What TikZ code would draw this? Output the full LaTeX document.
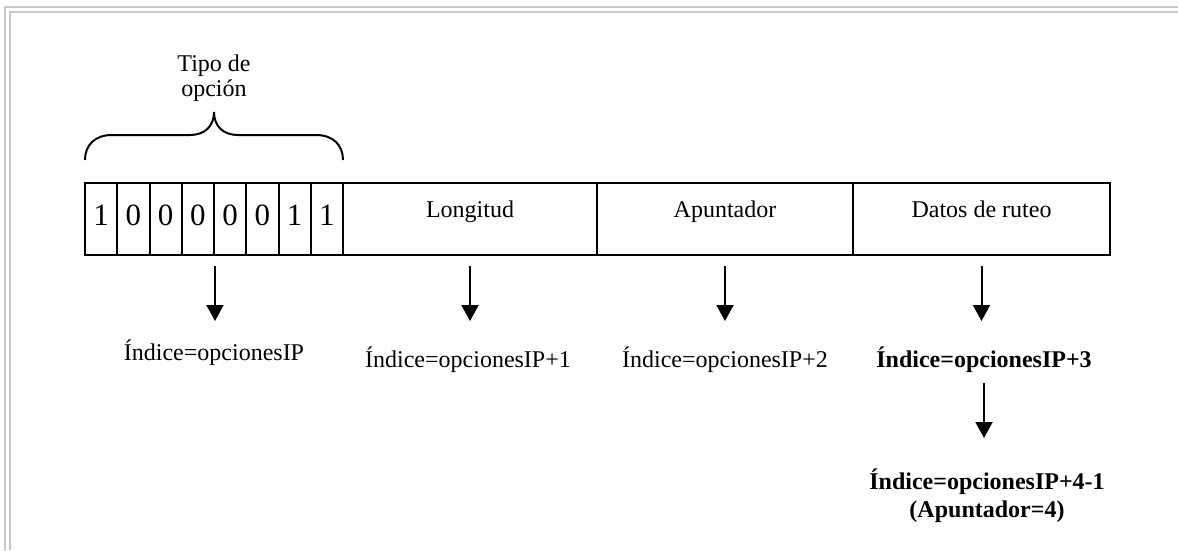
\documentclass[tikz,border=0pt]{standalone}
\usepackage{fontspec}
\setmainfont{Liberation Serif}
\usetikzlibrary{arrows.meta}
\definecolor{marco}{rgb}{.78,.78,.78}

\tikzset{
  celda/.style={draw, line width=2pt, minimum height=72pt, inner sep=0pt,
    font=\fontsize{24}{26}\selectfont, text height=14pt, text depth=18pt},
  bit/.style={celda, minimum width=32.25pt, font=\fontsize{31}{32}\selectfont,
    text height=24pt, text depth=12pt},
  flecha/.style={line width=2pt, -{Triangle[width=17pt,length=16pt]}},
  indice/.style={anchor=base, inner sep=0pt, font=\fontsize{24}{28}\selectfont}
}

\begin{document}
\begin{tikzpicture}[x=1pt,y=-1pt]
    \useasboundingbox (0,0) rectangle (1178,550);

    % doble marco gris
    \draw[marco, line width=2pt] (5,550) -- (5,7) -- (1178,7);
    \draw[marco, line width=2pt] (10,550) -- (10,12) -- (1178,12);

    % los 8 bits del tipo de opcion
    \foreach \b [count=\i] in {1,0,0,0,0,0,1,1}{
      \node[bit] (b\i) at ({85+32.25*(\i-0.5)},219) {\b};
    }
    \node[celda, minimum width=254pt] (long)  at (470,219)   {Longitud};
    \node[celda, minimum width=256pt] (apunt) at (725,219)   {Apuntador};
    \node[celda, minimum width=257pt] (datos) at (981.5,219) {Datos de ruteo};

    % llave sobre los bits
    \draw[line width=2pt] (85,160) .. controls (85,145) and (95,135) .. (112,135)
        -- (190,135) .. controls (205,135) and (214,126) .. (214,112)
        .. controls (214,126) and (223,135) .. (238,135)
        -- (316,135) .. controls (333,135) and (343,145) .. (343,160);
    \node[align=center, font=\fontsize{24}{25}\selectfont] (tipo) at (214,78)
        {Tipo de\\opción};

    % indices
    \node[indice] (l1) at (214,360) {Índice=opcionesIP};
    \node[indice] (l2) at (468,367) {Índice=opcionesIP+1};
    \node[indice] (l3) at (725,367) {Índice=opcionesIP+2};
    \node[indice, font=\fontsize{24}{28}\selectfont\bfseries] (l4) at (984,367)
        {Índice=opcionesIP+3};
    \node[align=center, inner sep=0pt, font=\fontsize{24}{28}\selectfont\bfseries]
        (l5) at (987,496) {Índice=opcionesIP+4-1\\(Apuntador=4)};

    \draw[flecha] ([yshift=-10pt]b4.south east) -- ++(0,55);
    \foreach \c in {long,apunt,datos}
      \draw[flecha] ([yshift=-10pt]\c.south) -- ++(0,55);
    \draw[flecha] ([yshift=-16pt]l4.base) -- ++(0,55);
\end{tikzpicture}
\end{document}
